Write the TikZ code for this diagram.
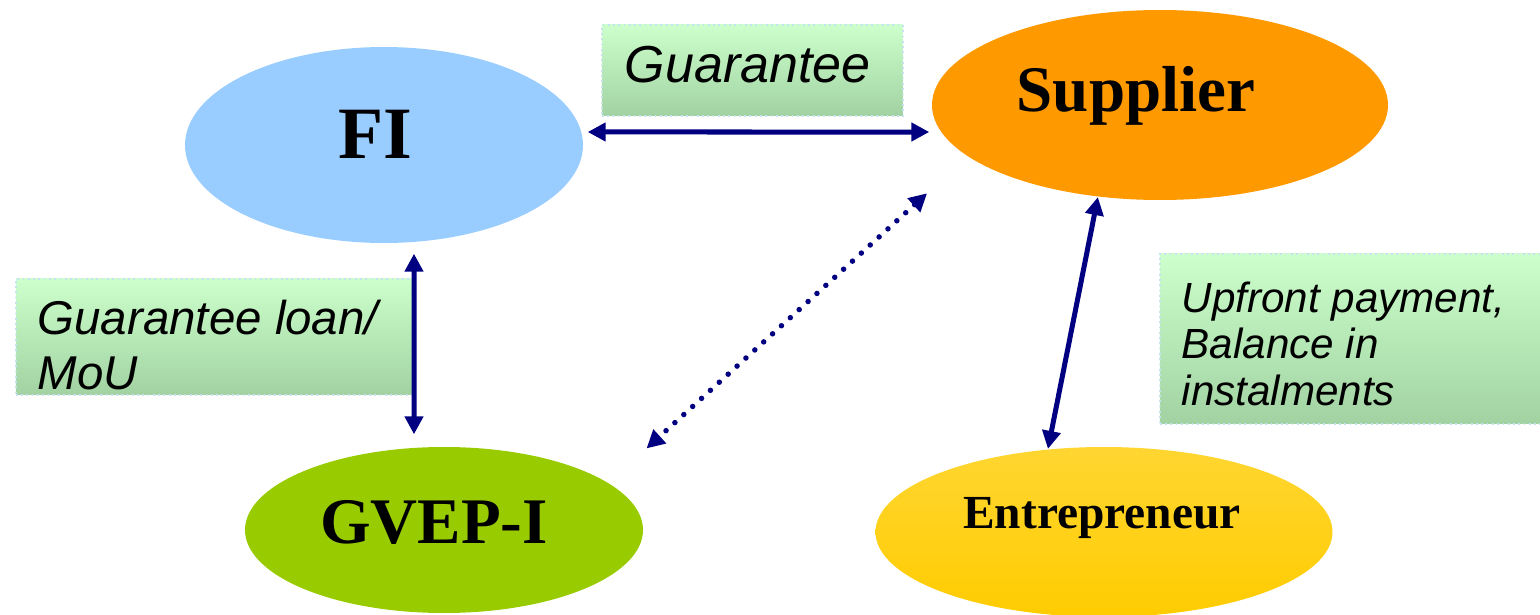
\documentclass[tikz,border=0pt]{standalone}
\usepackage{fontspec}
\setmainfont{Liberation Serif}
\newfontfamily\notefont{Liberation Sans}
\usetikzlibrary{positioning,arrows.meta,shapes.geometric,calc}

\definecolor{fiblue}{HTML}{99CCFF}
\definecolor{suporange}{HTML}{FF9900}
\definecolor{gvepgreen}{HTML}{99CC00}
\definecolor{entgoldtop}{HTML}{FFD632}
\definecolor{entgold}{HTML}{FFCC00}
\definecolor{boxtop}{HTML}{CCFFCC}
\definecolor{boxbot}{HTML}{A2D2A2}
\definecolor{boxline}{HTML}{C4E2F2}
\definecolor{linknavy}{HTML}{000080}

\begin{document}
\begin{tikzpicture}[
    party/.style={ellipse, inner sep=0pt},
    partytext/.style={anchor=base, inner sep=0pt},
    notebox/.style={draw=boxline, densely dotted, line width=0.5pt, top color=boxtop, bottom color=boxbot, inner sep=0pt, anchor=north west},
    notetext/.style={anchor=base west, align=left, inner sep=0pt},
    link/.style={{Triangle[length=0.18cm, width=0.18cm]}-{Triangle[length=0.18cm, width=0.18cm]}, line width=0.05cm, draw=linknavy},
    dotlink/.style={link, line width=0.055cm, dash pattern=on 0pt off 0.12cm, line cap=round}
]
\useasboundingbox (0,0) rectangle (15.4,-6.15);

% Parties
\node[party, fill=fiblue, minimum width=3.98cm, minimum height=1.96cm] (fi) at (3.84,-1.45) {};
\node[party, fill=suporange, minimum width=4.56cm, minimum height=1.90cm] (sup) at (11.60,-1.05) {};
\node[party, fill=gvepgreen, minimum width=3.98cm, minimum height=1.66cm] (gvep) at (4.44,-5.30) {};
\node[party, top color=entgoldtop, bottom color=entgold, minimum width=4.57cm, minimum height=1.70cm] (ent) at (11.04,-5.32) {};

\node[partytext, font=\bfseries\fontsize{21}{25}\selectfont] (fitext) at (3.75,-1.58) {FI};
\node[partytext, font=\bfseries\fontsize{18.5}{22}\selectfont] (suptext) at (11.36,-1.11) {Supplier};
\node[partytext, font=\bfseries\fontsize{18.5}{22}\selectfont] (gveptext) at (4.34,-5.43) {GVEP-I};
\node[partytext, font=\bfseries\fontsize{13.5}{16}\selectfont] (enttext) at (11.02,-5.28) {Entrepreneur};

% Notes
\node[notebox, minimum width=3.01cm, minimum height=0.91cm] (gbox) at (6.01,-0.24) {};
\node[notebox, minimum width=3.97cm, minimum height=1.16cm] (loanbox) at (0.15,-2.78) {};
\node[notebox, minimum width=3.90cm, minimum height=1.70cm] (upbox) at (11.59,-2.53) {};

\node[notetext, font=\notefont\itshape\fontsize{14.8}{17}\selectfont] (gtext) at (6.24,-0.82) {Guarantee};
\node[notetext, font=\notefont\itshape\fontsize{13.5}{15.9}\selectfont] (loantext) at (0.37,-3.90) {Guarantee loan/\\MoU};
\node[notetext, font=\notefont\itshape\fontsize{12}{13.2}\selectfont] (uptext) at (11.81,-4.05) {Upfront payment,\\Balance in\\instalments};

% Links
\draw[link, shorten <=0.04cm, shorten >=0.02cm] ([yshift=0.13cm]fi.east) -- ([yshift=-0.27cm]sup.west);
\draw[link, shorten <=0.10cm, shorten >=0.12cm] ([xshift=0.30cm]fi.south) -- ([xshift=-0.30cm]gvep.north);
\draw[dotlink, shorten <=0.545cm, shorten >=0.51cm] (sup.195.1) -- (gvep.16.5);
\draw[link] (sup.-124.4) -- (ent.124.4);

\end{tikzpicture}
\end{document}
